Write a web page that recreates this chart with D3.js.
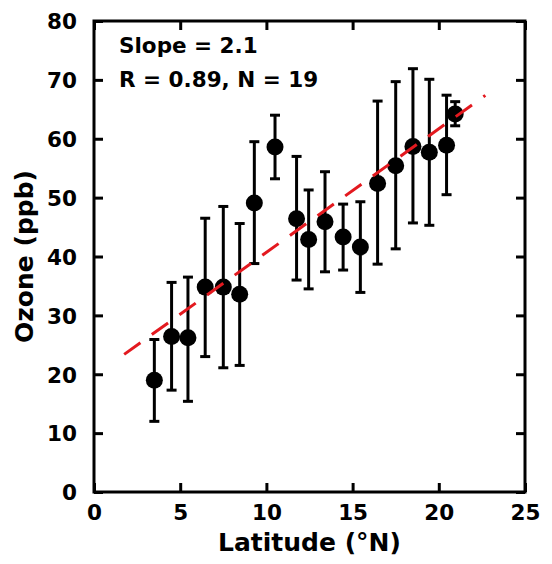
<!DOCTYPE html>
<html>
<head>
<meta charset="utf-8">
<script src="https://cdn.jsdelivr.net/npm/d3@7"></script>
<style>
  body { margin: 0; background: #fff; }
  text { font-family: "DejaVu Sans", sans-serif; font-weight: bold; fill: #000; }
</style>
</head>
<body>
<div id="chart"></div>
<script>
// latitude bins and mean ozone with error bar ranges
const latitude = [3.5, 4.5, 5.45, 6.45, 7.5, 8.45, 9.3, 10.5, 11.75, 12.45, 13.4, 14.45, 15.45, 16.45, 17.5, 18.5, 19.45, 20.45, 20.95];
const ozone    = [19.0, 26.4, 26.2, 34.8, 34.8, 33.6, 49.1, 58.6, 46.4, 42.9, 45.9, 43.3, 41.6, 52.4, 55.4, 58.7, 57.7, 58.9, 64.2];
const errLow   = [12.0, 17.3, 15.4, 23.0, 21.1, 21.5, 38.8, 53.2, 36.0, 34.5, 37.4, 37.7, 33.9, 38.7, 41.3, 45.7, 45.3, 50.5, 62.2];
const errHigh  = [25.9, 35.6, 36.5, 46.5, 48.5, 45.6, 59.5, 64.0, 57.0, 51.3, 54.4, 48.9, 49.3, 66.4, 69.7, 71.9, 70.1, 67.4, 66.3];

// linear fit shown as the dashed red line
const fitSlope = 2.1;
const fitIntercept = 19.7;
const fitRange = [1.75, 22.7];

const xTicks = [0, 5, 10, 15, 20, 25];
const yTicks = [0, 10, 20, 30, 40, 50, 60, 70, 80];

const width = 552, height = 564;
const margin = { top: 21, right: 27, bottom: 72, left: 94 };

const x = d3.scaleLinear().domain([0, 25]).range([margin.left, width - margin.right]);
const y = d3.scaleLinear().domain([0, 80]).range([height - margin.bottom, margin.top]);

const svg = d3.select("#chart").append("svg")
  .attr("width", width)
  .attr("height", height);

const data = latitude.map((lat, i) => ({ lat, o3: ozone[i], lo: errLow[i], hi: errHigh[i] }));

// axes: ticks point inward on all four sides
const tickLen = 9;
svg.append("g")
  .attr("transform", `translate(0,${y(0)})`)
  .call(d3.axisBottom(x).tickValues(xTicks).tickSizeInner(-tickLen).tickSizeOuter(0).tickPadding(13))
  .call(g => g.selectAll("text").attr("font-size", 21.5));
svg.append("g")
  .attr("transform", `translate(0,${y(80)})`)
  .call(d3.axisTop(x).tickValues(xTicks).tickSizeInner(-tickLen).tickSizeOuter(0).tickFormat(""));
svg.append("g")
  .attr("transform", `translate(${x(0)},0)`)
  .call(d3.axisLeft(y).tickValues(yTicks).tickSizeInner(-tickLen).tickSizeOuter(0).tickPadding(17))
  .call(g => g.selectAll("text").attr("font-size", 21.5).attr("dy", "0.36em"));
svg.append("g")
  .attr("transform", `translate(${x(25)},0)`)
  .call(d3.axisRight(y).tickValues(yTicks).tickSizeInner(-tickLen).tickSizeOuter(0).tickFormat(""));

svg.selectAll(".domain").remove();
svg.selectAll(".tick line").attr("stroke", "#000").attr("stroke-width", 3);

// frame
svg.append("rect")
  .attr("x", x(0)).attr("y", y(80))
  .attr("width", x(25) - x(0)).attr("height", y(0) - y(80))
  .attr("fill", "none").attr("stroke", "#000").attr("stroke-width", 3);

// error bars
const cap = 5;
const bars = svg.append("g").attr("stroke", "#000").attr("stroke-width", 3);
bars.selectAll("line.err")
  .data(data).join("line").attr("class", "err")
  .attr("x1", d => x(d.lat)).attr("x2", d => x(d.lat))
  .attr("y1", d => y(d.lo)).attr("y2", d => y(d.hi));
bars.selectAll("line.capHi")
  .data(data).join("line").attr("class", "capHi")
  .attr("x1", d => x(d.lat) - cap).attr("x2", d => x(d.lat) + cap)
  .attr("y1", d => y(d.hi)).attr("y2", d => y(d.hi));
bars.selectAll("line.capLo")
  .data(data).join("line").attr("class", "capLo")
  .attr("x1", d => x(d.lat) - cap).attr("x2", d => x(d.lat) + cap)
  .attr("y1", d => y(d.lo)).attr("y2", d => y(d.lo));

// points
svg.selectAll("circle")
  .data(data).join("circle")
  .attr("cx", d => x(d.lat))
  .attr("cy", d => y(d.o3))
  .attr("r", 8.5)
  .attr("fill", "#000");

// fit line on top
svg.append("line")
  .attr("x1", x(fitRange[0])).attr("y1", y(fitIntercept + fitSlope * fitRange[0]))
  .attr("x2", x(fitRange[1])).attr("y2", y(fitIntercept + fitSlope * fitRange[1]))
  .attr("stroke", "#e3191f")
  .attr("stroke-width", 3)
  .attr("stroke-dasharray", "20,14");

// stats text
svg.append("text").attr("x", 119).attr("y", 53).attr("font-size", 21.5).text("Slope = 2.1");
svg.append("text").attr("x", 119).attr("y", 87).attr("font-size", 21.5).text("R = 0.89, N = 19");

// axis titles
svg.append("text")
  .attr("x", (x(0) + x(25)) / 2).attr("y", 551)
  .attr("text-anchor", "middle").attr("font-size", 25)
  .text("Latitude (°N)");
svg.append("text")
  .attr("transform", `translate(33,${(y(0) + y(80)) / 2}) rotate(-90)`)
  .attr("text-anchor", "middle").attr("font-size", 25)
  .text("Ozone (ppb)");
</script>
</body>
</html>
